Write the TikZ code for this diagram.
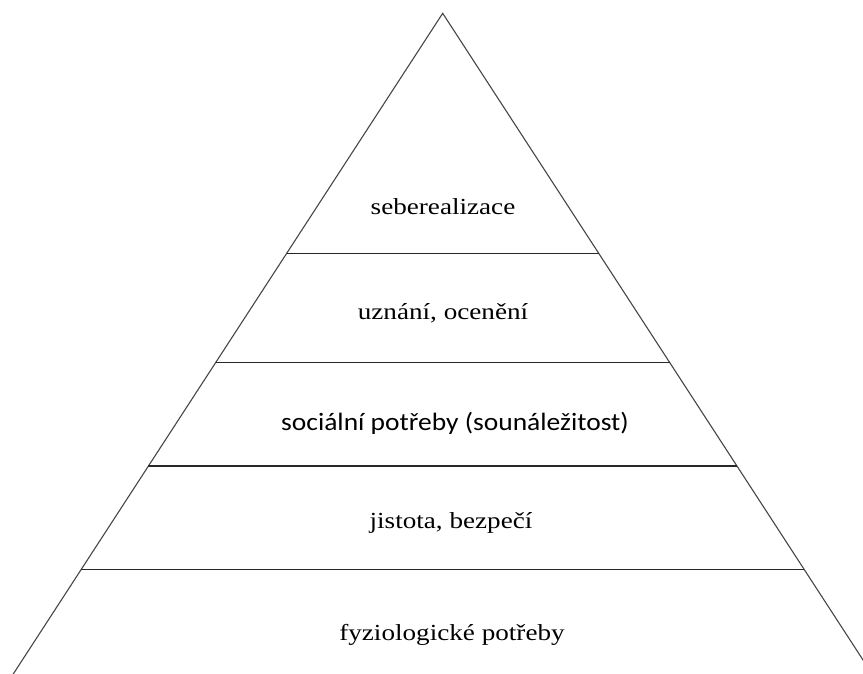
\documentclass[tikz,border=0pt]{standalone}
\usepackage{fontspec}
\setmainfont{Liberation Serif}[FakeStretch=1.18]
\newfontfamily\sansbody{Carlito}[FakeStretch=1.1]
\usepackage{xcolor}
\usetikzlibrary{calc}
\definecolor{ink}{RGB}{70,70,70}
\definecolor{rule}{RGB}{40,40,40}
\tikzset{
  side/.style={draw=ink,line width=1.1pt},
  tier/.style={draw=rule,line width=1.5pt},
  lbl/.style={inner sep=0pt,text=black,font=\fontsize{23}{26}\selectfont},
  lblsans/.style={lbl,font=\sansbody\fontsize{25}{28}\selectfont},
}

\begin{document}
\begin{tikzpicture}[x=1pt,y=-1pt]
  \useasboundingbox (0,0) rectangle (863,674);
  \clip (0,0) rectangle (863,674);
  % pyramid outline
  \coordinate (apex) at (442.7,13.3);
  \coordinate (baseL) at ($(apex)+(-0.65*690,690)$);
  \coordinate (baseR) at ($(apex)+(0.65*690,690)$);
  \draw[side] (baseL) -- (apex) -- (baseR);
  % tiers
  \foreach \y/\n in {253.3/a,362.3/b,466/c,569.3/d}{
    \pgfmathsetmacro{\dx}{0.65*(\y-13.3)}
    \coordinate (L\n) at (442.7-\dx,\y);
    \coordinate (R\n) at (442.7+\dx,\y);
    \draw[tier] (L\n) -- (R\n);
  }
  \node[lbl] (self) at (443,207) {seberealizace};
  \node[lbl] (esteem) at (443,313) {uznání, ocenění};
  \node[lblsans] (social) at (455,423) {sociální potřeby (sounáležitost)};
  \node[lbl] (safety) at (451,523) {jistota, bezpečí};
  \node[lbl] (physio) at (452,635) {fyziologické potřeby};
\end{tikzpicture}
\end{document}
